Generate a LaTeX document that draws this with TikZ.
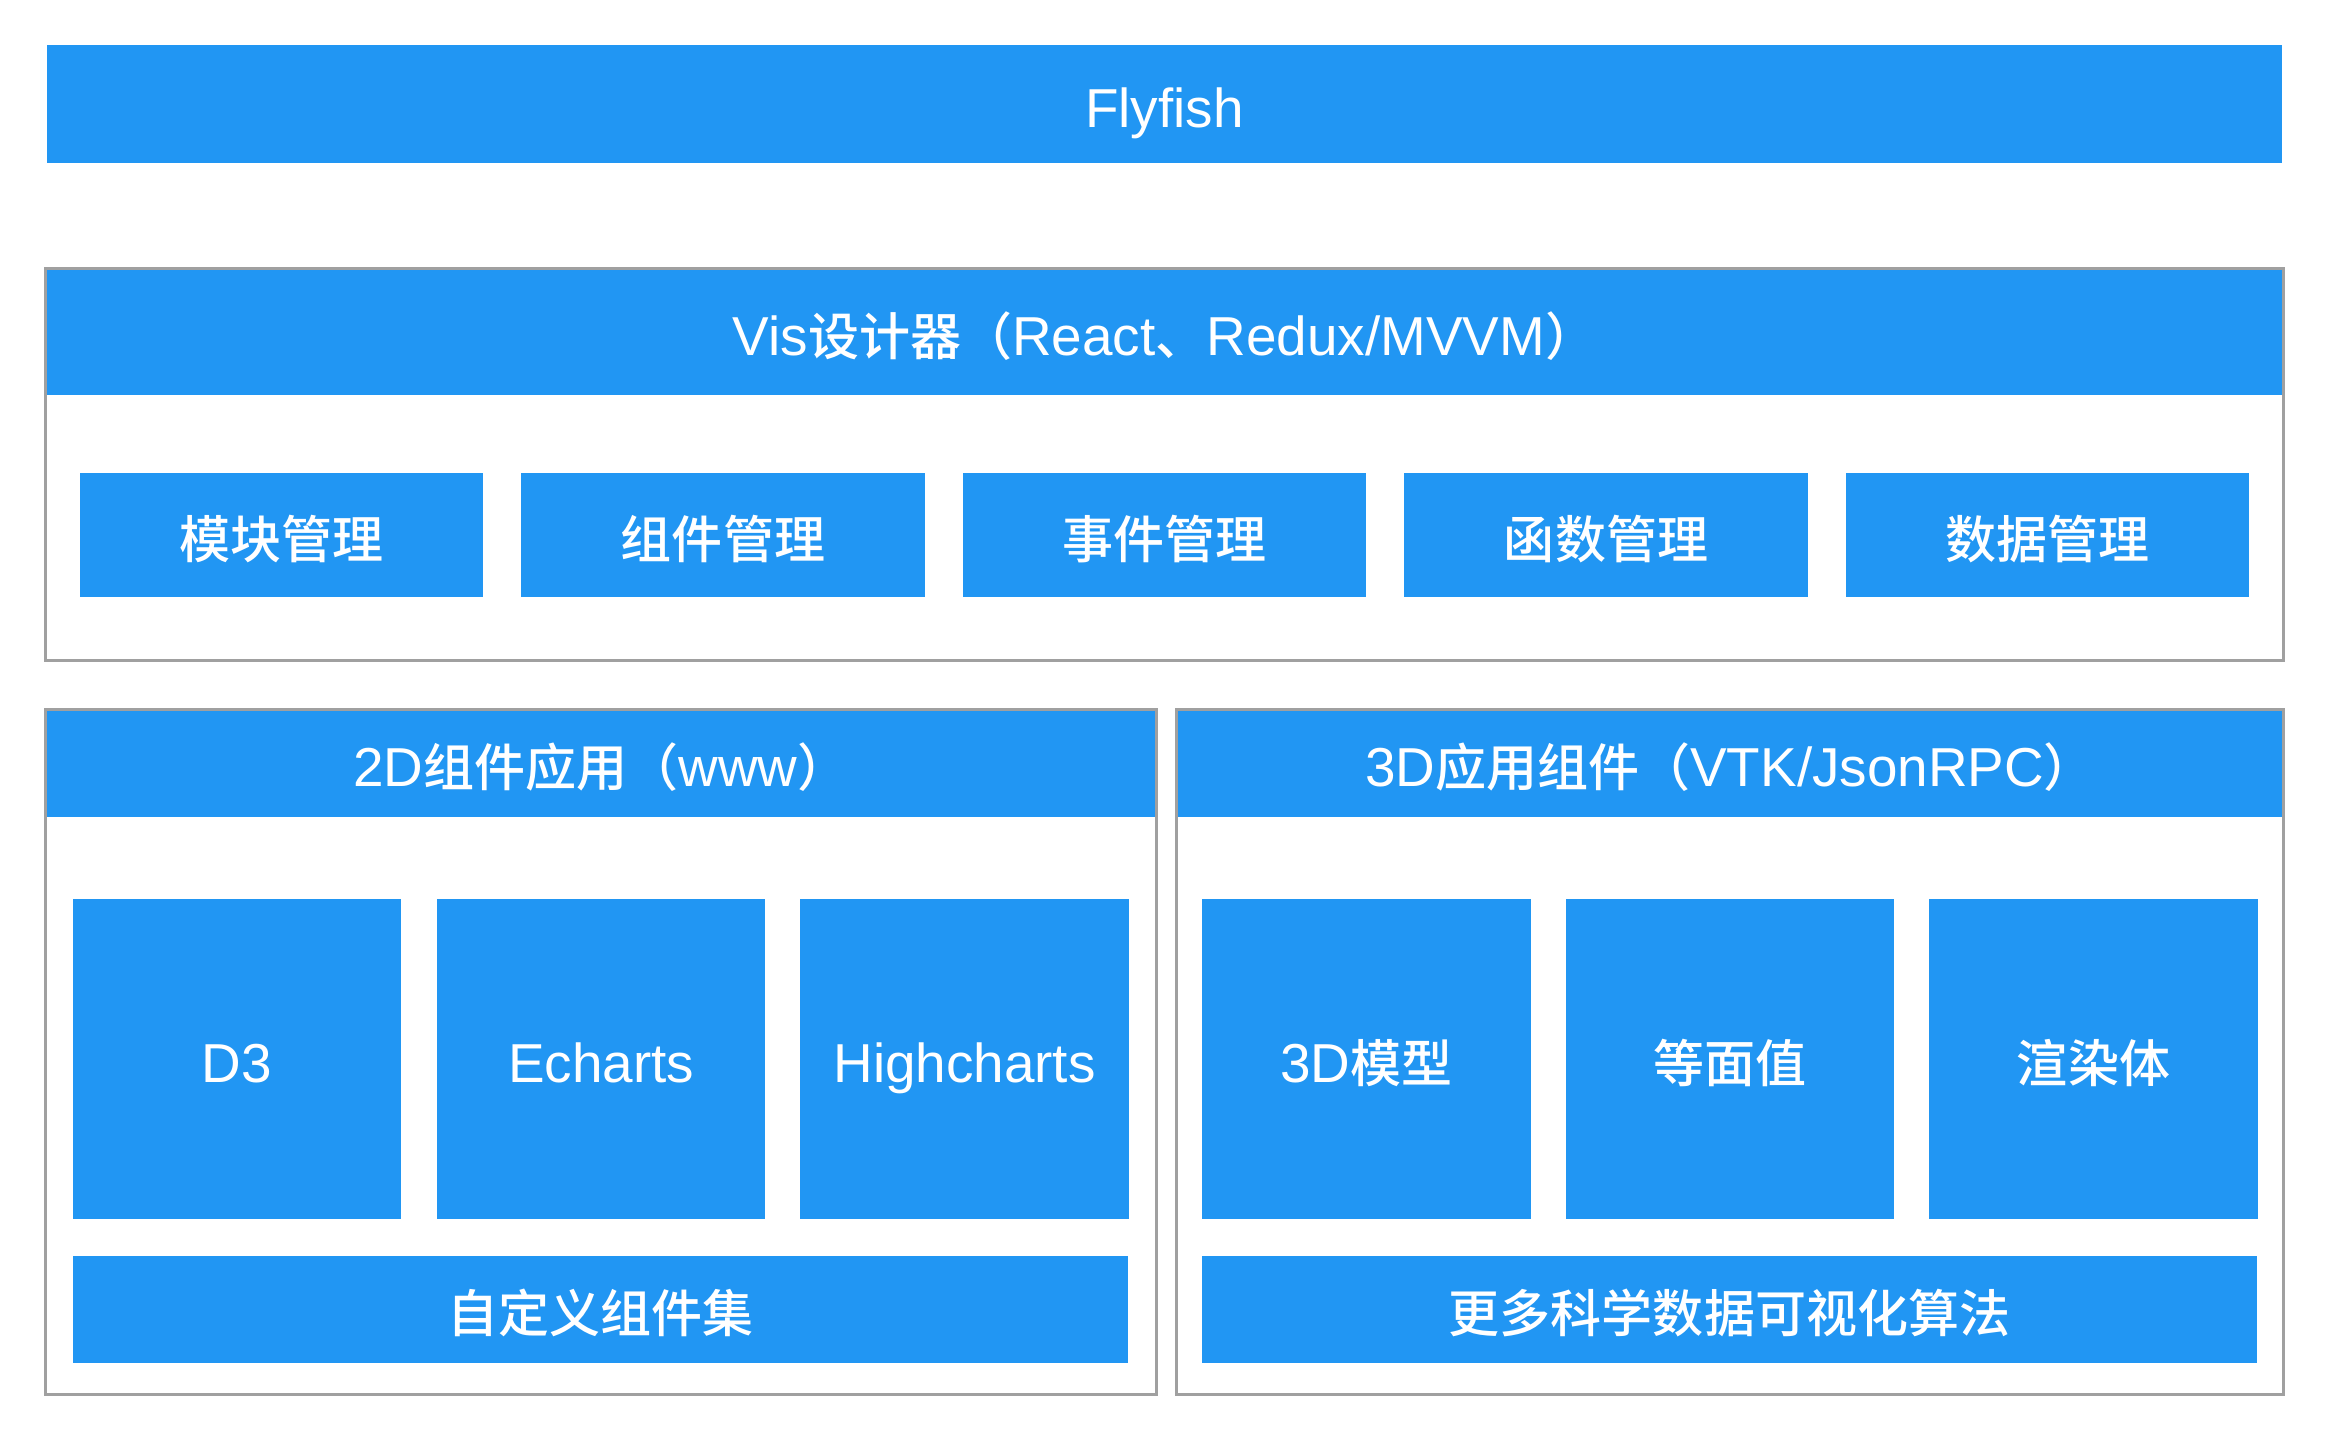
\documentclass[tikz,border=0pt]{standalone}
\usepackage{fontspec}
\setmainfont{Liberation Sans}
\newfontfamily\cjk{Noto Sans CJK SC Medium}[Scale=0.93]
\definecolor{flyblue}{HTML}{2196F3}
\definecolor{framegray}{HTML}{A0A0A0}
\tikzset{
	bluebox/.style={fill=flyblue, text=white, inner sep=0pt, text height=14.4pt, text depth=1.3pt, font=\fontsize{15.6}{18}\selectfont},
	frame/.style={draw=framegray, line width=0.85pt, inner sep=0pt}
}
\begin{document}
\begin{tikzpicture}[x=0.01cm, y=-0.01cm]
	\useasboundingbox (0,0) rectangle (2330,1440);
	\node[bluebox, minimum width=22.33cm, minimum height=1.18cm] (fly) at (1164.5,104) {Flyfish};

	\node[bluebox, minimum width=22.37cm, minimum height=1.26cm] (vis) at (1164.5,332) {Vis{\cjk 设计器（}React{\cjk 、}Redux/MVVM{\cjk ）}};
	\node[frame, minimum width=22.37cm, minimum height=3.91cm] (visframe) at (1164.5,464.5) {};
	\node[bluebox, minimum width=4.03cm, minimum height=1.24cm] (mod) at (281.5,535) {\cjk 模块管理};
	\node[bluebox, minimum width=4.03cm, minimum height=1.24cm] (comp) at (723,535) {\cjk 组件管理};
	\node[bluebox, minimum width=4.03cm, minimum height=1.24cm] (event) at (1164.5,535) {\cjk 事件管理};
	\node[bluebox, minimum width=4.03cm, minimum height=1.24cm] (func) at (1606,535) {\cjk 函数管理};
	\node[bluebox, minimum width=4.03cm, minimum height=1.24cm] (data) at (2047.5,535) {\cjk 数据管理};

	\node[bluebox, minimum width=11.10cm, minimum height=1.07cm] (twod) at (601,763.5) {2D{\cjk 组件应用（}www{\cjk ）}};
	\node[frame, minimum width=11.10cm, minimum height=6.84cm] (twodframe) at (601,1052) {};
	\node[bluebox, minimum width=3.28cm, minimum height=3.20cm] (dthree) at (237,1059) {D3};
	\node[bluebox, minimum width=3.28cm, minimum height=3.20cm] (echarts) at (601,1059) {Echarts};
	\node[bluebox, minimum width=3.28cm, minimum height=3.20cm] (highcharts) at (964.5,1059) {Highcharts};
	\node[bluebox, minimum width=10.55cm, minimum height=1.07cm] (custom) at (600.5,1309.5) {\cjk 自定义组件集};

	\node[bluebox, minimum width=11.06cm, minimum height=1.07cm] (threed) at (1730,763.5) {3D{\cjk 应用组件（}VTK/JsonRPC{\cjk ）}};
	\node[frame, minimum width=11.06cm, minimum height=6.84cm] (threedframe) at (1730,1052) {};
	\node[bluebox, minimum width=3.28cm, minimum height=3.20cm] (model) at (1366.5,1059) {3D{\cjk 模型}};
	\node[bluebox, minimum width=3.28cm, minimum height=3.20cm] (iso) at (1730,1059) {\cjk 等面值};
	\node[bluebox, minimum width=3.28cm, minimum height=3.20cm] (volume) at (2093.5,1059) {\cjk 渲染体};
	\node[bluebox, minimum width=10.55cm, minimum height=1.07cm] (algo) at (1729.5,1309.5) {\cjk 更多科学数据可视化算法};
\end{tikzpicture}
\end{document}
